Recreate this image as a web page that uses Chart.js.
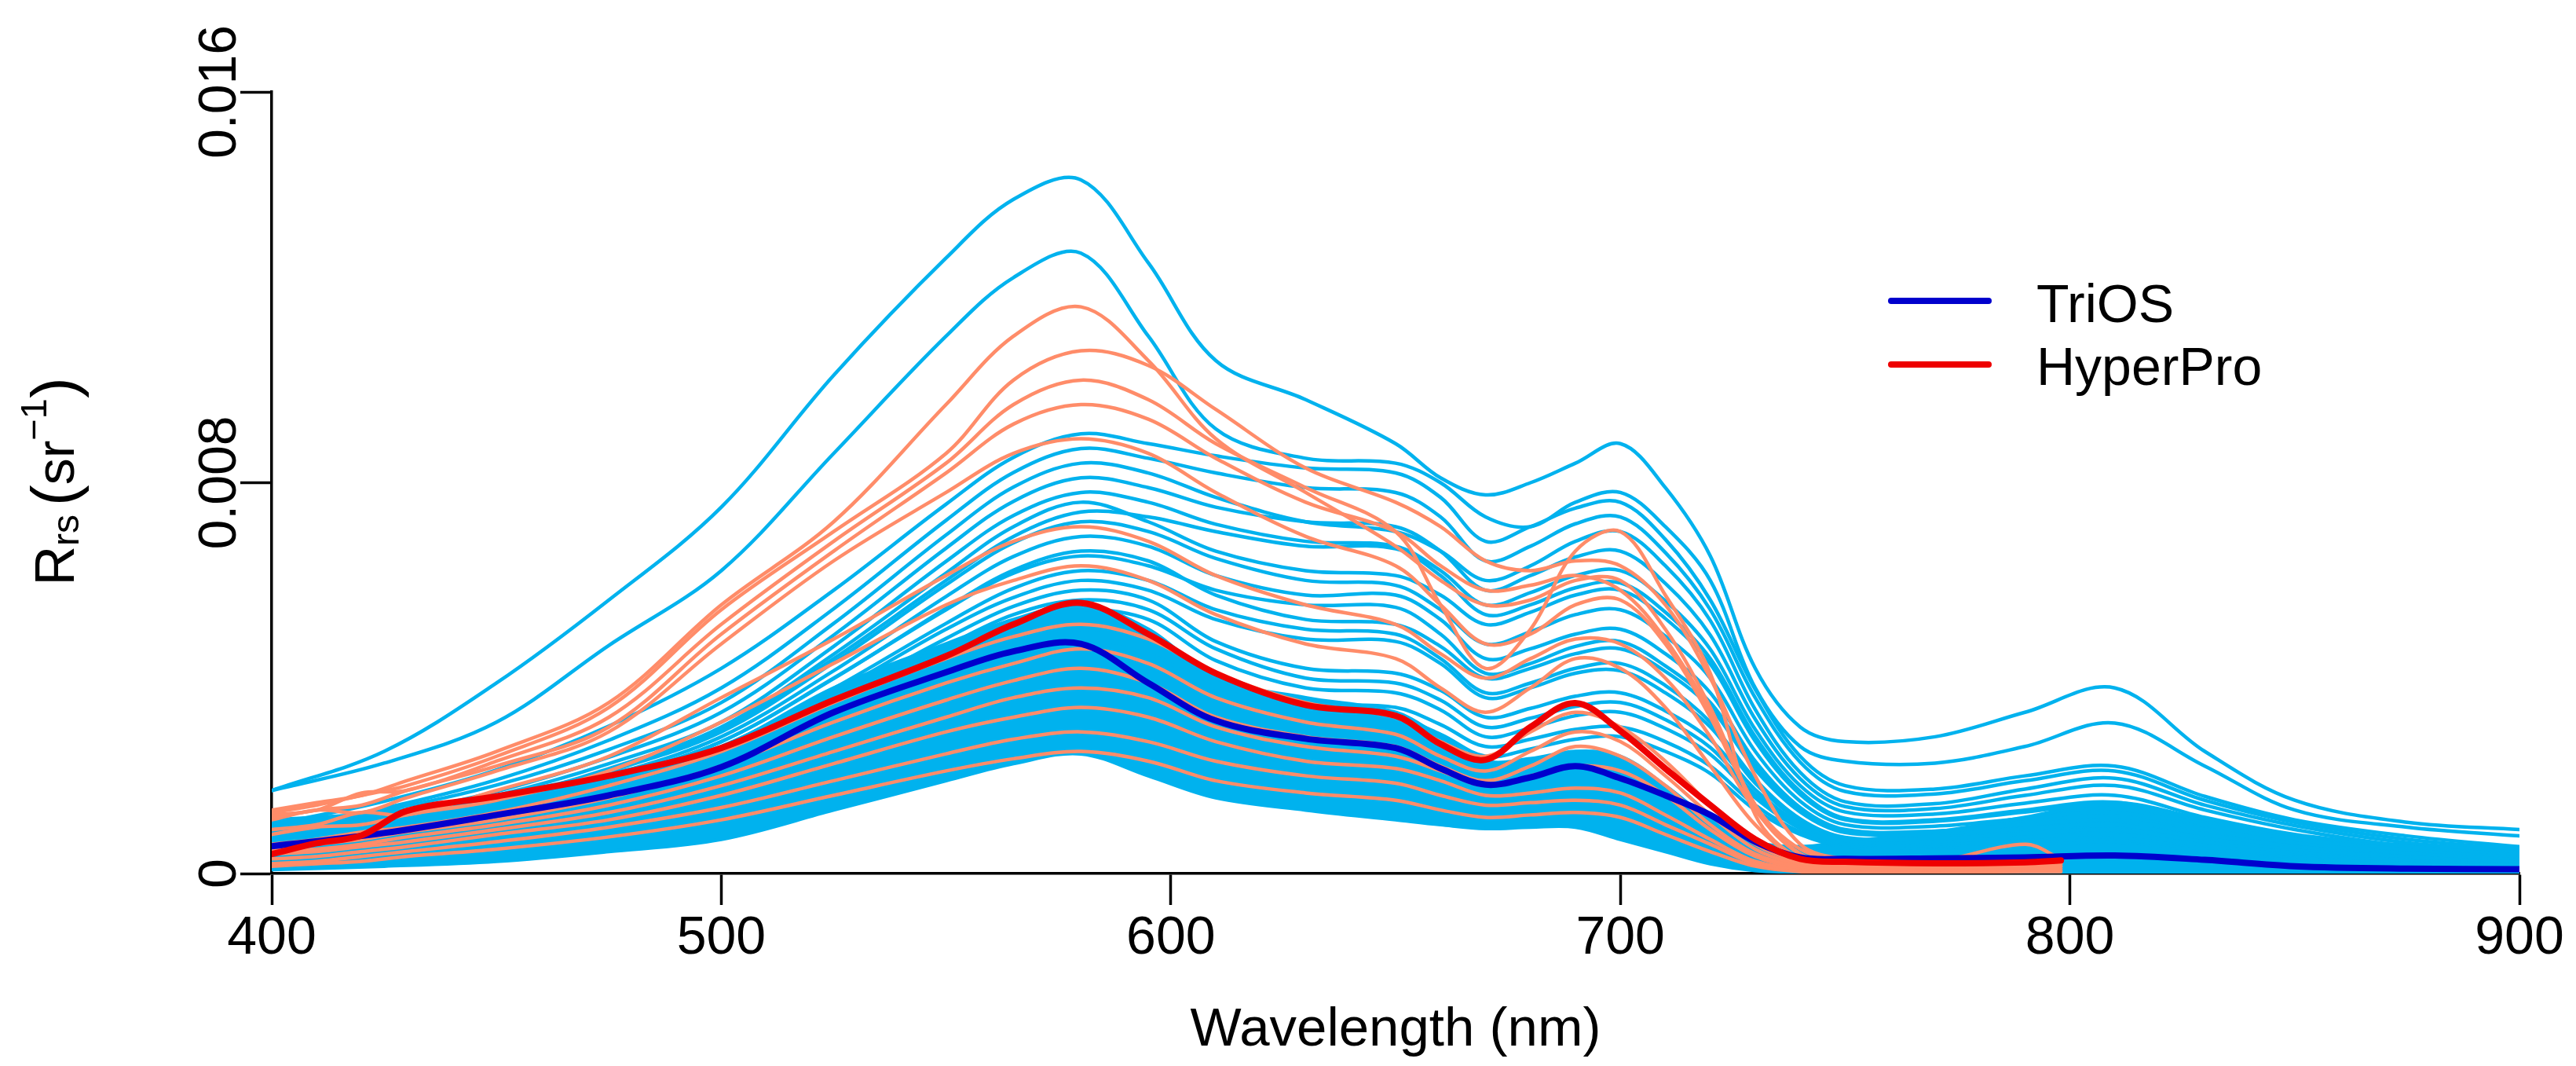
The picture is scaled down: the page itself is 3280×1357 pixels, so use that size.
<!DOCTYPE html>
<html>
<head>
<meta charset="utf-8">
<script src="https://cdn.jsdelivr.net/npm/chart.js@4.4.0/dist/chart.umd.min.js"></script>
<style>
  html, body { margin: 0; padding: 0; background: #fff; }
  #wrap { width: 3280px; height: 1357px; }
</style>
</head>
<body>
<div id="wrap"><canvas id="rrsChart" width="3280" height="1357"></canvas></div>
<script>
// values below are Rrs x 10^4 (sr^-1)
const wlTrios = [400, 425, 450, 475, 500, 525, 550, 565, 580, 595, 610, 630, 650, 660, 670, 680, 690, 700, 710, 720, 730, 740, 750, 770, 790, 810, 830, 850, 875, 900];
const wlHyper = [400, 410, 420, 430, 450, 475, 500, 525, 550, 565, 580, 595, 610, 630, 650, 660, 670, 680, 690, 700, 710, 720, 730, 740, 750, 770, 790, 798];

const xTicks = [400, 500, 600, 700, 800, 900];
const xTickLabels = ['400', '500', '600', '700', '800', '900'];
const yTicks = [0, 0.008, 0.016];
const yTickLabels = ['0', '0.008', '0.016'];

// TriOS: lower edge and upper edge of the solid band of spectra
const triosLow   = [0.8, 1.5, 2.5, 4.5, 7, 13, 19, 22.5, 24.5, 20, 15.5, 13, 11, 10, 9.2, 9.5, 9.5, 7, 4.5, 2, 0.6, 0.3, 0.2, 0.2, 0.2, 0.3, 0.2, 0.2, 0.2, 0.2];
const triosDense = [11, 12.5, 16, 20.5, 26, 38, 47, 52, 55, 50, 40, 36, 33, 28, 23, 23.5, 25, 24, 18, 11, 6.5, 5.5, 6.5, 8.5, 11.5, 14.5, 11, 7.5, 5.8, 4.6];

// TriOS: single spectra standing out of the band
const triosB1  = [17, 25, 39, 56, 75, 102, 126, 138, 142, 125, 105, 97, 88, 81, 77.5, 80, 84, 88, 79, 65, 42, 30, 27, 28, 33, 38, 25, 15, 10.5, 9];
const triosB2  = [17, 22.6, 31, 46.7, 62, 86, 110, 122, 127, 110, 91, 85, 84, 80, 73, 71, 76, 78, 71, 60, 38, 26, 23, 22.6, 26, 30.8, 22, 13, 9.5, 7.7];
const triosP1  = [10, 14.8, 21.2, 30.2, 42, 58, 75.6, 85.2, 90, 88, 85.5, 83, 82, 77, 68, 71, 74.8, 76, 68.4, 56, 37.7, 24, 18, 17.3, 20, 22, 15.8, 11, 7.7, 5.5];
const triosP2  = [9, 13.4, 19.2, 27.3, 38, 54.2, 72.3, 82.1, 87, 85, 82, 79, 78, 73, 64, 67, 71.6, 73, 65.7, 54, 36, 22.8, 16.8, 16.3, 19, 21, 15, 10.5, 7, 5];
const triosP3  = [9, 12.9, 18.1, 25.4, 35, 51.2, 69.3, 79.1, 84, 82, 77, 72, 70, 66, 60, 63, 68, 70, 63, 51.8, 33.6, 20.7, 14.7, 14.3, 17.3, 19.5, 14, 9.8, 6.3, 4.5];
const triosP4  = [8, 11.8, 16.8, 23.8, 33, 48.8, 66.6, 76.2, 81, 79, 75, 72, 71, 66, 58, 61, 64.8, 66, 59.4, 48.8, 31.6, 19.4, 13.7, 13.3, 16, 18, 13, 9, 5.6, 4];
const triosP5  = [8, 11.5, 16, 22.5, 31, 46.5, 63.9, 73.3, 78, 76, 71.5, 68, 67, 62, 55, 57.5, 61, 62, 55.8, 45.9, 29.5, 18, 12.6, 12.2, 14.4, 16, 11.5, 8, 5.6, 4];
const triosP6  = [7, 10.5, 15, 21.5, 30, 44.9, 61.5, 71, 76, 72, 66, 62, 61, 57, 51, 53.5, 57, 58, 52.2, 42.9, 27.1, 16.2, 11, 10.7, 12.6, 14, 10, 7, 4.9, 3.5];
const triosP7  = [7, 10.3, 14.7, 20.9, 29, 43.2, 59.1, 67.7, 72, 70, 64.5, 60, 59, 54, 47, 49.5, 53, 54, 48.6, 40, 25, 14.8, 10, 9.7, 11.3, 12.5, 9, 6.3, 4.2, 3];
const triosP8  = [6.5, 9.7, 14, 20, 28, 41.5, 56.7, 64.9, 69, 67, 61, 57, 57, 52, 44, 46, 49, 50, 45, 37, 23, 13.5, 9, 8.7, 10, 11, 8, 5.5, 4.2, 3];
const triosP9  = [6, 9.2, 13.4, 19.2, 27, 39.9, 54.3, 62.1, 66, 64, 57, 52, 51, 46.5, 40, 42, 45, 46, 41.4, 34, 21.3, 12.6, 8.4, 8.2, 9.2, 10, 7.2, 5, 3.5, 2.5];
const triosP10 = [6, 9, 13, 18.6, 26, 37.9, 51.2, 58.4, 62, 60, 54, 50, 49, 44, 37, 39, 42, 43, 38.5, 31, 19.3, 11.2, 7.4, 7.1, 8.2, 9, 6.5, 4.5, 3.3, 2.5];
const triosP11 = [5.5, 8.4, 12.3, 17.8, 25, 35.9, 48.1, 54.7, 58, 56, 47.5, 42, 41, 37.5, 32, 33.8, 36.3, 37, 33.3, 27.4, 17.2, 10.2, 6.8, 6.6, 7.4, 8, 5.8, 4, 2.8, 2];
const triosP12 = [5, 7.9, 11.7, 17, 24, 33.9, 45, 51, 54, 52, 43.6, 38, 37, 33.5, 28, 29.8, 32.3, 33, 29.7, 24.4, 15.5, 9.2, 6.3, 6.1, 6.9, 7.5, 5.4, 3.8, 2.8, 2];
const triosQ1  = [5.8, 8.8, 12.5, 18, 25.5, 37, 50, 56.5, 60, 58, 52, 48, 47.5, 43, 36, 38, 41, 41.5, 37, 30, 18.5, 10.8, 7.2, 7, 7.8, 8.6, 6.2, 4.3, 3, 2.2];
const triosQ2  = [4.8, 7.5, 11, 16, 22.5, 32, 42, 47.5, 50, 48, 40, 35, 34, 30.5, 26, 27.5, 29.5, 30, 27, 22, 14, 8.5, 6, 5.8, 6.5, 7, 5, 3.5, 2.5, 1.8];
const triosQ3  = [4.5, 7.2, 10.5, 15.2, 21.5, 30.5, 39.5, 44.5, 47, 45, 38, 33.5, 32, 28.5, 24, 25.5, 27.5, 28, 25, 20.5, 13, 8, 5.5, 5.4, 6, 6.5, 4.7, 3.3, 2.4, 1.7];
const triosQ4  = [6.2, 9.4, 13.6, 19.5, 27, 40, 54, 61.5, 65, 63, 58, 55, 54.5, 49, 41, 43, 46.5, 47.5, 42.5, 35, 22, 13, 8.6, 8.4, 9.5, 10.4, 7.5, 5.2, 3.7, 2.7];
const triosQ5  = [5.2, 8, 11.8, 17.2, 24.3, 34.5, 46.5, 53, 56, 54, 46, 40, 39, 35.5, 30, 31.8, 34.2, 35, 31.5, 25.8, 16.3, 9.7, 6.5, 6.3, 7.1, 7.7, 5.6, 3.9, 2.8, 2];
const triosQ6  = [6.8, 10.2, 14.8, 21, 29.5, 44, 60, 69, 74, 73, 70, 67, 66.5, 61, 53, 55, 58.5, 59.5, 53.5, 44, 28, 16.8, 11.3, 11, 13, 14.6, 10.4, 7.3, 5, 3.6];
const triosMean = [5.6, 8.3, 12, 16, 21.8, 33, 41.2, 45.5, 47, 39, 31.3, 27.6, 25.7, 21.5, 18.2, 19.7, 22, 19.5, 16, 12, 6.5, 3.3, 3, 3.1, 3.3, 3.7, 2.8, 1.5, 1, 0.9];

// HyperPro spectra
const hyperS1  = [13, 14.5, 16, 19, 25, 35, 55, 72, 96, 110, 116, 105, 89, 78, 67, 60, 55, 56, 60, 60, 50, 34, 14, 5, 3, 2.5, 3, 3];
const hyperS2  = [12.5, 14, 16, 18, 24, 34, 54, 70, 86, 101, 107, 104, 95, 83, 76, 71, 64, 62, 64, 63, 55, 40, 20, 6, 3, 2.5, 3, 3];
const hyperS3  = [12, 13, 16.5, 17, 23, 32, 51, 68, 84, 96, 101, 97, 88, 79, 70, 55, 42, 50, 66, 70, 57, 41, 12, 3, 2.5, 2.5, 6, 3];
const hyperS4  = [11.5, 13, 14, 17, 22, 30, 49, 66, 82, 92, 96, 93, 85, 76, 70, 63, 58, 59, 61, 58, 48, 33, 14, 4, 2.5, 2, 2.5, 2.5];
const hyperS5  = [11, 13, 12.5, 15.5, 21, 29, 47, 64, 78, 86, 89, 86, 78, 69, 63, 55, 47, 49, 55, 56, 47, 32, 14, 4, 2.5, 2, 2.5, 3];
const hyperS6  = [9, 10, 12.5, 12, 17, 24, 36, 48, 61, 68, 71, 68, 61, 55, 51, 45, 40, 44, 48, 47, 40, 28, 13, 4, 2.5, 2, 2.5, 2.5];
const hyperS7  = [8, 9.5, 10, 12, 15, 21, 31, 43, 55, 60, 63, 60, 53, 47, 44, 38, 33, 38, 44, 42, 34, 22, 10, 3, 2, 2, 2, 2];
const hyperS8  = [6, 7, 8.5, 9.5, 12.5, 18, 25, 35, 44, 48.5, 51, 48, 41, 35, 32, 27, 24, 29, 33, 30, 23, 14, 6, 2.5, 2, 1.8, 2, 2];
const hyperS9  = [5, 6, 7, 8.5, 11, 15.5, 22, 31, 39, 43, 46, 43, 36, 31, 28.5, 24, 21, 25, 29, 27, 20, 12, 5, 2, 1.5, 1.5, 1.8, 2];
const hyperS10 = [4.5, 5, 6, 7.5, 10, 14, 20, 28, 35.5, 39.5, 42, 39, 32, 28, 26, 22, 19, 22, 26, 24, 18, 10, 4, 1.5, 1.2, 1.2, 1.5, 1.5];
const hyperS11 = [4, 4.5, 5.5, 6.5, 9, 12.5, 18, 25, 32, 36, 38, 36, 30, 26, 24, 21, 18, 20, 22, 21, 16, 9, 3.5, 1.2, 1, 1, 1.2, 1.5];
const hyperS12 = [3, 3.5, 4.5, 5.5, 8, 11, 16, 22.5, 29, 32, 34, 32, 27, 23, 21.5, 19, 16, 16.5, 17.5, 16.5, 12, 7, 2.5, 1, 0.8, 0.8, 1, 1];
const hyperS13 = [2, 2.5, 3.5, 4.5, 6.5, 9.5, 13.5, 19, 24.5, 27.5, 29, 27, 23, 20, 18.5, 16, 14, 14.5, 15, 14, 10, 6, 2, 0.6, 0.5, 0.5, 0.6, 0.6];
const hyperS14 = [1.5, 2, 2.5, 3.5, 5, 7.5, 11, 16, 21, 23.5, 25, 23, 19, 16.5, 15, 13, 11.5, 12, 12.5, 11.5, 8, 4.5, 1.5, 0.4, 0.3, 0.3, 0.4, 0.4];
const hyperMean = [4, 6.2, 7.8, 12.8, 15.8, 20, 25.7, 35.5, 44.5, 51, 55.4, 49, 41, 34.5, 32.3, 26.5, 23.3, 30, 34.9, 29.2, 21.5, 14, 7, 3, 2.4, 2.1, 2.3, 2.7];

const triosSpectra = [triosB1, triosB2, triosP1, triosP2, triosP3, triosP4, triosP5, triosP6, triosP7, triosP8, triosP9, triosP10, triosP11, triosP12,
    triosQ1, triosQ2, triosQ3, triosQ4, triosQ5, triosQ6];
const hyperSpectra = [hyperS1, hyperS2, hyperS3, hyperS4, hyperS5, hyperS6, hyperS7, hyperS8, hyperS9, hyperS10, hyperS11, hyperS12, hyperS13, hyperS14];

const FONT = '"Liberation Sans", Arial, sans-serif';
const TRIOS_COL = '#00B2EE';
const HYPER_COL = '#FF8C69';
const TRIOS_MEAN_COL = '#0000CD';
const HYPER_MEAN_COL = '#EE0000';

function toPoints(wl, vals) {
    return wl.map((w, i) => ({ x: w, y: vals[i] / 1e4 }));
}

const datasets = [];
datasets.push({ label: 'triosLow', data: toPoints(wlTrios, triosLow), borderColor: TRIOS_COL, borderWidth: 4.5, order: 10 });
datasets.push({ label: 'triosDense', data: toPoints(wlTrios, triosDense), borderColor: TRIOS_COL, borderWidth: 4.5,
    backgroundColor: TRIOS_COL, fill: 0, order: 10 });
triosSpectra.forEach((s, i) => {
    datasets.push({ label: 'trios' + i, data: toPoints(wlTrios, s), borderColor: TRIOS_COL, borderWidth: 4.5, order: 9 });
});
hyperSpectra.forEach((s, i) => {
    datasets.push({ label: 'hyper' + i, data: toPoints(wlHyper, s), borderColor: HYPER_COL, borderWidth: 4.5, order: 5 });
});
datasets.push({ label: 'TriOS', data: toPoints(wlTrios, triosMean), borderColor: TRIOS_MEAN_COL, borderWidth: 8, order: 2 });
datasets.push({ label: 'HyperPro', data: toPoints(wlHyper, hyperMean), borderColor: HYPER_MEAN_COL, borderWidth: 8, order: 1 });

// axis labels, titles and legend drawn in R style
const textPlugin = {
    id: 'rStyleText',
    afterDraw(chart) {
        const ctx = chart.ctx;
        const xs = chart.scales.x, ys = chart.scales.y;
        const area = chart.chartArea;
        ctx.save();
        ctx.fillStyle = '#000';

        // x tick labels
        ctx.font = '68px ' + FONT;
        ctx.textAlign = 'center';
        ctx.textBaseline = 'alphabetic';
        xTicks.forEach((v, i) => {
            ctx.fillText(xTickLabels[i], xs.getPixelForValue(v), area.bottom + 102);
        });

        // y tick labels, rotated
        yTicks.forEach((v, i) => {
            ctx.save();
            ctx.translate(area.left - 46, ys.getPixelForValue(v));
            ctx.rotate(-Math.PI / 2);
            ctx.fillText(yTickLabels[i], 0, 0);
            ctx.restore();
        });

        // x title
        ctx.font = '69px ' + FONT;
        ctx.fillText('Wavelength (nm)', (area.left + area.right) / 2, 1331);

        // y title: R_rs (sr^-1)
        const parts = [
            { t: 'R', size: 70, dy: 0 },
            { t: 'rs', size: 48, dy: 6 },
            { t: ' ', size: 40, dy: 0 },
            { t: '(', size: 80, dy: 2 },
            { t: 'sr', size: 68, dy: 0 },
            { t: '\u22121', size: 47, dy: -35 },
            { t: ')', size: 80, dy: 2 }
        ];
        let total = 0;
        parts.forEach(p => {
            ctx.font = p.size + 'px ' + FONT;
            p.w = ctx.measureText(p.t).width;
            total += p.w;
        });
        ctx.save();
        ctx.translate(94, 613);
        ctx.rotate(-Math.PI / 2);
        ctx.textAlign = 'left';
        let px = -total / 2;
        parts.forEach(p => {
            ctx.font = p.size + 'px ' + FONT;
            ctx.fillText(p.t, px, p.dy);
            px += p.w;
        });
        ctx.restore();

        // legend
        const legend = [
            { text: 'TriOS', color: TRIOS_MEAN_COL, y: 383, base: 410 },
            { text: 'HyperPro', color: HYPER_MEAN_COL, y: 464, base: 490 }
        ];
        ctx.lineCap = 'round';
        ctx.lineWidth = 8;
        ctx.font = '68px ' + FONT;
        ctx.textAlign = 'left';
        legend.forEach(l => {
            ctx.strokeStyle = l.color;
            ctx.beginPath();
            ctx.moveTo(2408, l.y);
            ctx.lineTo(2532, l.y);
            ctx.stroke();
            ctx.fillText(l.text, 2593, l.base);
        });
        ctx.restore();
    }
};

const axisCommon = {
    type: 'linear',
    ticks: { display: false },
    grid: { display: true, drawOnChartArea: false, drawTicks: true, tickLength: 40, tickWidth: 3.5, tickColor: '#000' },
    border: { display: true, color: '#000', width: 3.5 }
};

const rrsChart = new Chart(document.getElementById('rrsChart').getContext('2d'), {
    type: 'line',
    data: { datasets: datasets },
    options: {
        responsive: false,
        animation: false,
        devicePixelRatio: 1,
        layout: { padding: { top: 117, right: 72, left: 0, bottom: 0 } },
        elements: {
            point: { radius: 0 },
            line: { tension: 0.35, borderCapStyle: 'round', borderJoinStyle: 'round', fill: false }
        },
        plugins: {
            legend: { display: false },
            tooltip: { enabled: false }
        },
        scales: {
            x: Object.assign({}, axisCommon, {
                min: 400, max: 900,
                afterBuildTicks: s => { s.ticks = xTicks.map(v => ({ value: v })); },
                afterFit: s => { s.height = 245; }
            }),
            y: Object.assign({}, axisCommon, {
                min: 0, max: 0.016,
                afterBuildTicks: s => { s.ticks = yTicks.map(v => ({ value: v })); },
                afterFit: s => { s.width = 346; }
            })
        }
    },
    plugins: [textPlugin]
});
</script>
</body>
</html>
